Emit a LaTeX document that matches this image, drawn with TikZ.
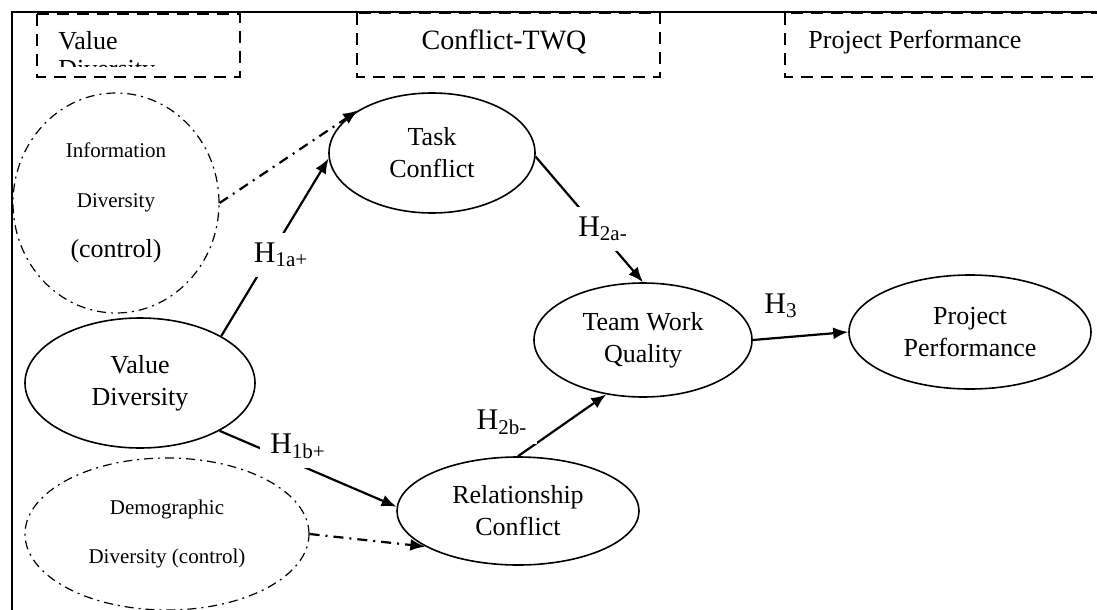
\documentclass[tikz,border=0pt]{standalone}
\usepackage{fontspec}
\setmainfont{Liberation Serif}
\usepackage{tikz}
\usetikzlibrary{shapes.geometric,arrows.meta}

\begin{document}
\begin{tikzpicture}[x=0.5pt, y=-0.5pt,
  construct/.style={ellipse, draw, line width=0.8pt, inner sep=0pt, align=center, font=\fontsize{13}{16}\selectfont},
  control/.style={ellipse, draw, line width=0.6pt, dash pattern=on 4.5pt off 2.5pt on 1pt off 2.5pt, inner sep=0pt, align=center},
  stagebox/.style={draw, line width=1pt, dash pattern=on 6pt off 4pt},
  hyp/.style={draw, line width=1.1pt, -{Latex[length=7.5pt,width=6pt]}},
  ctrl/.style={hyp, dash pattern=on 5pt off 3pt on 1pt off 3pt},
  hlabel/.style={fill=white, inner sep=5pt, font=\fontsize{15}{18}\selectfont}]
\useasboundingbox (0,0) rectangle (1097,610);
\draw[line width=1pt] (12,610) -- (12,12) -- (1097,12);

\draw[stagebox] (37,14) rectangle (240,77);
\draw[stagebox] (357,13) rectangle (660,77);
\draw[stagebox] (785,13) rectangle (1120,77);
\begin{scope}
\clip (37,14) rectangle (240,67);
\node (vdtitle) [anchor=north west, inner sep=0pt, align=left, font=\fontsize{13}{14}\selectfont] at (58,31) {Value\\Diversity};
\end{scope}
\node (twqtitle) [font=\fontsize{14}{16}\selectfont] at (504,42) {Conflict-TWQ};
\node (pptitle) [anchor=west, inner sep=0pt, font=\fontsize{13}{16}\selectfont] at (808,42) {Project Performance};

\node (idiv) [control, minimum width=103pt, minimum height=110pt, font=\fontsize{10.5}{25}\selectfont] at (116,203) {Information\\Diversity\\\fontsize{13}{25}\selectfont(control)};
\node (ddiv) [control, minimum width=142pt, minimum height=76pt, font=\fontsize{10.5}{24.5}\selectfont] at (167,534) {Demographic\\Diversity (control)};
\node (vd) [construct, minimum width=115pt, minimum height=65pt] at (140,383) {Value\\Diversity};
\node (tc) [construct, minimum width=103pt, minimum height=60pt] at (432,153) {Task\\Conflict};
\node (rc) [construct, minimum width=121pt, minimum height=54pt] at (518,511) {Relationship\\Conflict};
\node (twq) [construct, minimum width=109pt, minimum height=57pt] at (643,340) {Team Work\\Quality};
\node (pp) [construct, minimum width=121pt, minimum height=57pt] at (970,332) {Project\\Performance};

\draw[ctrl] (idiv.0) -- (tc.150);
\draw[ctrl] (ddiv.0) -- (rc.201);
\draw[hyp] (vd.30) -- (tc.183);
\draw[hyp] (vd.-31) -- (rc.178);
\draw[hyp] (tc.-2) -- (twq.90);
\draw[hyp] (rc.90) -- (twq.236);
\draw[hyp] (twq.0) -- (pp.180);

\node (h1a) [hlabel] at (281,255) {H\textsubscript{1a+}};
\node (h1b) [hlabel] at (298,446) {H\textsubscript{1b+}};
\node (h2a) [hlabel] at (603,229) {H\textsubscript{2a-}};
\node (h2b) [hlabel] at (502,422) {H\textsubscript{2b-}};
\node (h3) [hlabel] at (781,306) {H\textsubscript{3}};
\end{tikzpicture}
\end{document}
